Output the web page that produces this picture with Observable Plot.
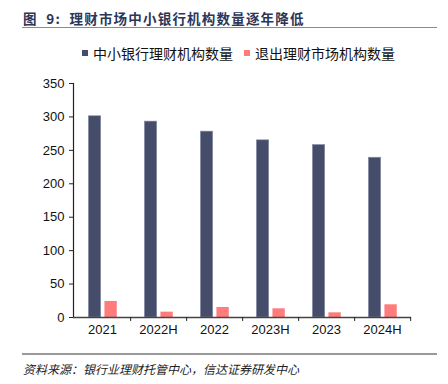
<!DOCTYPE html>
<html><head><meta charset="utf-8">
<script src="https://cdn.jsdelivr.net/npm/d3@7"></script>
<script src="https://cdn.jsdelivr.net/npm/@observablehq/plot@0.6"></script>
<style>
body{margin:0;background:#fff;width:448px;height:384px;position:relative;overflow:hidden;font-family:"Liberation Sans",Arial,"Noto Sans CJK SC",sans-serif;}
#title{position:absolute;left:23px;top:8px;font-family:"Noto Sans CJK SC",sans-serif;font-weight:bold;font-size:13.5px;color:#2b3659;letter-spacing:1.2px;white-space:nowrap;}
#tline{position:absolute;left:22px;top:27px;width:415px;height:1px;background:#8a8a8a;}
#legend{position:absolute;left:0;top:43px;width:448px;font-family:"Noto Sans CJK SC",sans-serif;font-size:14px;color:#111;white-space:nowrap;}
.lg{position:absolute;top:0;display:flex;align-items:center;}
.sw{width:6px;height:6px;margin-right:5px;}
#chart{position:absolute;left:0;top:70px;}
#cline{position:absolute;left:22px;top:353px;width:415px;height:2px;background:#9a9a9a;}
#caption{position:absolute;left:23px;top:360px;font-family:"Noto Sans CJK SC",serif;font-style:italic;font-size:12px;color:#222;white-space:nowrap;}
</style></head>
<body>
<div id="title">图&nbsp; 9:&nbsp; 理财市场中小银行机构数量逐年降低</div>
<div id="tline"></div>
<div id="legend"></div>
<div id="chart"></div>
<div id="cline"></div>
<div id="caption">资料来源：银行业理财托管中心，信达证券研发中心</div>
<script>
const categories = ["2021","2022H","2022","2023H","2023","2024H"];
const seriesNames = ["中小银行理财机构数量","退出理财市场机构数量"];
const smallBanks = [301, 293, 278, 265, 258, 239];
const exited = [24, 8, 15, 13, 7, 19];
const colors = ["#454d6b", "#ff7c7c"];
const yTicks = [0,50,100,150,200,250,300,350];

const data = [];
categories.forEach((c,i)=>{
  data.push({cat:c, series:seriesNames[0], value:smallBanks[i]});
  data.push({cat:c, series:seriesNames[1], value:exited[i]});
});

// legend
const lg = document.getElementById("legend");
[[82,0],[244,1]].forEach(([x,i])=>{
  const d = document.createElement("div");
  d.className="lg"; d.style.left = x+"px";
  d.innerHTML = `<span class="sw" style="background:${colors[i]}"></span><span>${seriesNames[i]}</span>`;
  lg.appendChild(d);
});

const W = 448, ML = 73, MR = 37;
const bw = (W-ML-MR)/categories.length;
const plot = Plot.plot({
  width: W, height: 270,
  marginLeft: ML, marginRight: MR, marginTop: 13, marginBottom: 23,
  style: {fontFamily: "'Liberation Sans', Arial, sans-serif", fontSize: "13px", color: "#111"},
  x: {type:"band", domain: categories, padding: 0, label: null},
  y: {domain: [0,350], ticks: yTicks, label: null},
  color: {domain: seriesNames, range: colors},
  marks: [
    Plot.barY(data.filter(d=>d.series===seriesNames[0]), {x:"cat", y:"value", fill:"series", stroke:"#8a90a8", strokeWidth:0.6, insetLeft: bw*0.255, insetRight: bw*0.52}),
    Plot.barY(data.filter(d=>d.series===seriesNames[1]), {x:"cat", y:"value", fill:"series", insetLeft: bw*0.54, insetRight: bw*0.235}),
    Plot.axisY({ticks: yTicks, tickSize: 4, tickPadding: 5, stroke:"#222", fontSize: 13}),
    Plot.frame({anchor: "left", stroke: "#222", strokeWidth: 1.2}),
    Plot.ruleY([0], {stroke: "#444", strokeWidth: 1.6}),
    Plot.axisX({tickSize: 0, tickPadding: 7, fontSize: 13}),
    Plot.axisX({tickSize: 4, text: null, dx: bw/2, stroke:"#222"})
  ]
});
document.getElementById("chart").appendChild(plot);
</script>
</body></html>
